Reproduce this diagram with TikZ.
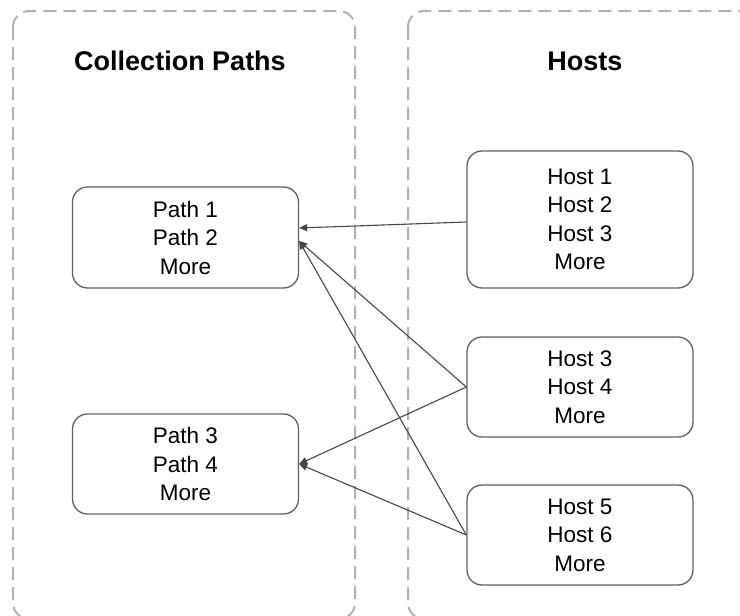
\documentclass[tikz,border=0pt]{standalone}
\usepackage{fontspec}
\setmainfont{Liberation Sans}
\usetikzlibrary{arrows.meta,calc}
\begin{document}
\begin{tikzpicture}[x=1pt,y=-1pt,
  container/.style={draw=black!30, line width=2pt, dash pattern=on 13pt off 7pt, rounded corners=16pt},
  hbox/.style={draw=black!62, line width=1.3pt, rounded corners=15pt, minimum width=226pt,
    align=center, font=\fontsize{22.5}{28.5}\selectfont, inner sep=0pt},
  title/.style={font=\bfseries\fontsize{27}{32}\selectfont, anchor=base},
  link/.style={draw=black!72, line width=1.1pt, -{Triangle[length=8pt,width=7pt]}}]
\clip (0,0) rectangle (740,616);
\fill[white] (0,0) rectangle (740,616);
\draw[container] (13,11) rectangle (355,619);
\draw[container] (408,11) rectangle (770,619);
\node[title] (t1) at (180,70) {Collection Paths};
\node[title] (t2) at (585,70) {Hosts};
\node[hbox, minimum height=101pt] (p1) at (185.5,237.5) {Path 1\\Path 2\\More};
\node[hbox, minimum height=100pt] (p2) at (185.5,464) {Path 3\\Path 4\\More};
\node[hbox, minimum height=137pt] (h1) at (580,219.5) {Host 1\\Host 2\\Host 3\\More};
\node[hbox, minimum height=100pt] (h2) at (580,387) {Host 3\\Host 4\\More};
\node[hbox, minimum height=100pt] (h3) at (580,535) {Host 5\\Host 6\\More};
\coordinate (pa) at ([yshift=9.5pt]p1.east);
\coordinate (pb) at ([yshift=-3.5pt]p1.east);
\draw[link] ([yshift=-2.5pt]h1.west) -- (pa);
\draw[link] (h2.west) -- (pb);
\draw[link] (h3.west) -- (pb);
\draw[link] (h2.west) -- (p2.east);
\draw[link] (h3.west) -- (p2.east);
\end{tikzpicture}
\end{document}
